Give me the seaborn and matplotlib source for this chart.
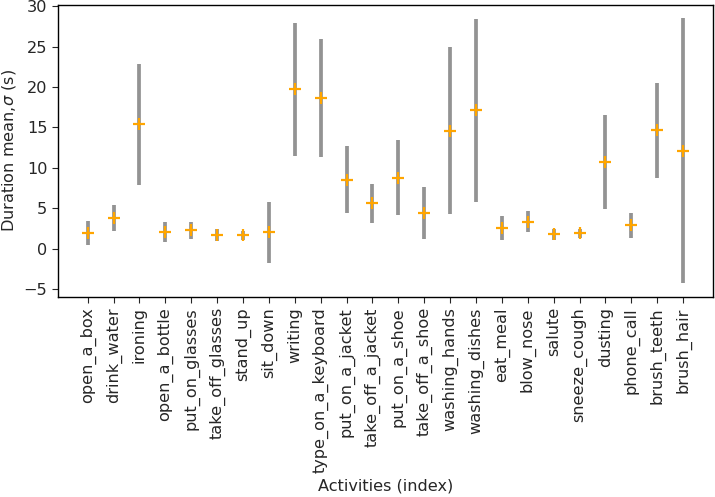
import matplotlib
matplotlib.use('Agg')
import matplotlib.pyplot as plt
import numpy as np
import pandas as pd
import seaborn as sns

# activity names, mean duration and std (s)
activities = ['open_a_box', 'drink_water', 'ironing', 'open_a_bottle', 'put_on_glasses',
              'take_off_glasses', 'stand_up', 'sit_down', 'writing', 'type_on_a_keyboard',
              'put_on_a_jacket', 'take_off_a_jacket', 'put_on_a_shoe', 'take_off_a_shoe',
              'washing_hands', 'washing_dishes', 'eat_meal', 'blow_nose', 'salute',
              'sneeze_cough', 'dusting', 'phone_call', 'brush_teeth', 'brush_hair']
mean_dur = [1.9, 3.8, 15.4, 2.1, 2.25, 1.72, 1.65, 2.05, 19.7, 18.6, 8.55, 5.6,
            8.8, 4.4, 14.6, 17.1, 2.6, 3.35, 1.8, 1.9, 10.7, 2.9, 14.65, 12.1]
std_dur = [1.5, 1.6, 7.5, 1.25, 1.0, 0.77, 0.53, 3.78, 8.25, 7.3, 4.15, 2.43,
           4.6, 3.18, 10.33, 11.3, 1.48, 1.3, 0.68, 0.55, 5.8, 1.55, 5.9, 16.4]

df = pd.DataFrame({'idx': np.arange(len(activities)), 'activity': activities,
                   'mean': mean_dur, 'std': std_dur})

sns.set_style('ticks')
plt.rcParams['font.family'] = ['DejaVu Sans']
plt.rcParams['font.size'] = 11.6
plt.rcParams['axes.labelsize'] = 11.6
plt.rcParams['xtick.labelsize'] = 11.6
plt.rcParams['ytick.labelsize'] = 11.6
plt.rcParams['xtick.major.size'] = 4
plt.rcParams['ytick.major.size'] = 4
plt.rcParams['axes.linewidth'] = 1.0

fig, ax = plt.subplots(figsize=(7.15, 4.97), dpi=100)
ax.errorbar(df['idx'], df['mean'], yerr=df['std'], fmt='none',
            ecolor='grey', elinewidth=2.7, alpha=0.85, zorder=1)
sns.scatterplot(data=df, x='idx', y='mean', marker='+', s=75, color='orange',
                linewidth=1.6, ax=ax, zorder=2)

ax.set_xticks(df['idx'])
ax.set_xticklabels(activities, rotation=90)
ax.set_xlabel('Activities (index)')
ax.set_ylabel(r'Duration mean,$\sigma$ (s)')
for s in ax.spines.values():
    s.set_visible(True)
    s.set_color('black')

fig.subplots_adjust(left=0.081, right=0.997, top=0.99, bottom=0.403)
fig.savefig('out.png')
